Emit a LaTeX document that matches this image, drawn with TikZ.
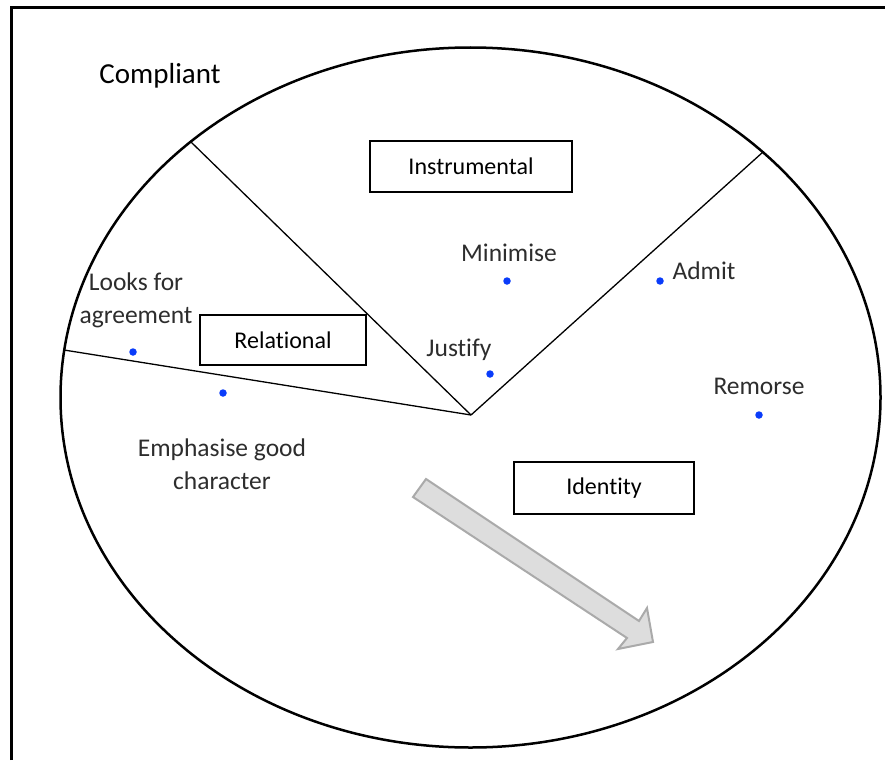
\documentclass[tikz,border=0pt]{standalone}
\usepackage{fontspec}
\setmainfont{Carlito}[Ligatures={NoCommon}]
\usepackage{tikz}

\definecolor{dotblue}{RGB}{10,60,250}
\definecolor{lblgrey}{RGB}{45,45,45}
\definecolor{arrowfill}{RGB}{221,221,221}
\definecolor{arrowline}{RGB}{170,170,170}

\begin{document}
\begin{tikzpicture}[x=1pt,y=-1pt,
	box/.style={draw=black,line width=1.3pt,inner sep=0pt,font=\fontsize{24}{28}\selectfont},
	lbl/.style={text=lblgrey,align=center,inner sep=0pt,font=\fontsize{25.5}{33}\selectfont},
	dot/.style={circle,fill=dotblue,inner sep=0pt,minimum size=7.5pt}]
	
	\useasboundingbox (0,0) rectangle (885,760);
	\fill[white] (0,0) rectangle (885,760);
	\draw[line width=3pt] (11,760) -- (11,8) -- (885,8);
	
	\node[inner sep=0pt,font=\fontsize{29}{34}\selectfont] (compliant) at (160,76) {Compliant};
	
	\draw[line width=2.5pt] (470.5,397.5) ellipse [x radius=410, y radius=350];
	
	\coordinate (hub) at (471,415);
	\coordinate (rimleft) at (64,350);
	\coordinate (rimtop) at (191,142);
	\coordinate (rimright) at (763,152);
	
	\draw[line width=1.3pt] (rimleft) -- (hub);
	\draw[line width=1.3pt] (rimtop) -- (hub);
	\draw[line width=1.3pt] (rimright) -- (hub);
	
	\node[box,minimum width=202pt,minimum height=51pt] (instrumental) at (471,166.5) {Instrumental};
	\node[box,minimum width=166pt,minimum height=50pt] (relational) at (283,340) {Relational};
	\node[box,minimum width=180pt,minimum height=52pt] (identity) at (604,488) {Identity};
	
	\node[dot] (agreedot) at (133,352) {};
	\node[dot] (characterdot) at (223,393) {};
	\node[dot] (minimisedot) at (507,281) {};
	\node[dot] (admitdot) at (660,281) {};
	\node[dot] (justifydot) at (490,374) {};
	\node[dot] (remorsedot) at (759,415) {};
	
	\node[lbl] (agree) at (136,300) {Looks for\\agreement};
	\node[lbl] (character) at (222,464) {Emphasise good\\character};
	\node[lbl] (minimise) at (509,253) {Minimise};
	\node[lbl] (admit) at (704,271) {Admit};
	\node[lbl] (justify) at (459,350) {Justify};
	\node[lbl] (remorse) at (759,386) {Remorse};
	
	\draw[line width=2pt,draw=arrowline,fill=arrowfill,line join=miter]
		(413,497) -- (426,479) -- (639,621) -- (647,608) -- (653,642) -- (618,649) -- (627,638) -- cycle;
	
\end{tikzpicture}
\end{document}
